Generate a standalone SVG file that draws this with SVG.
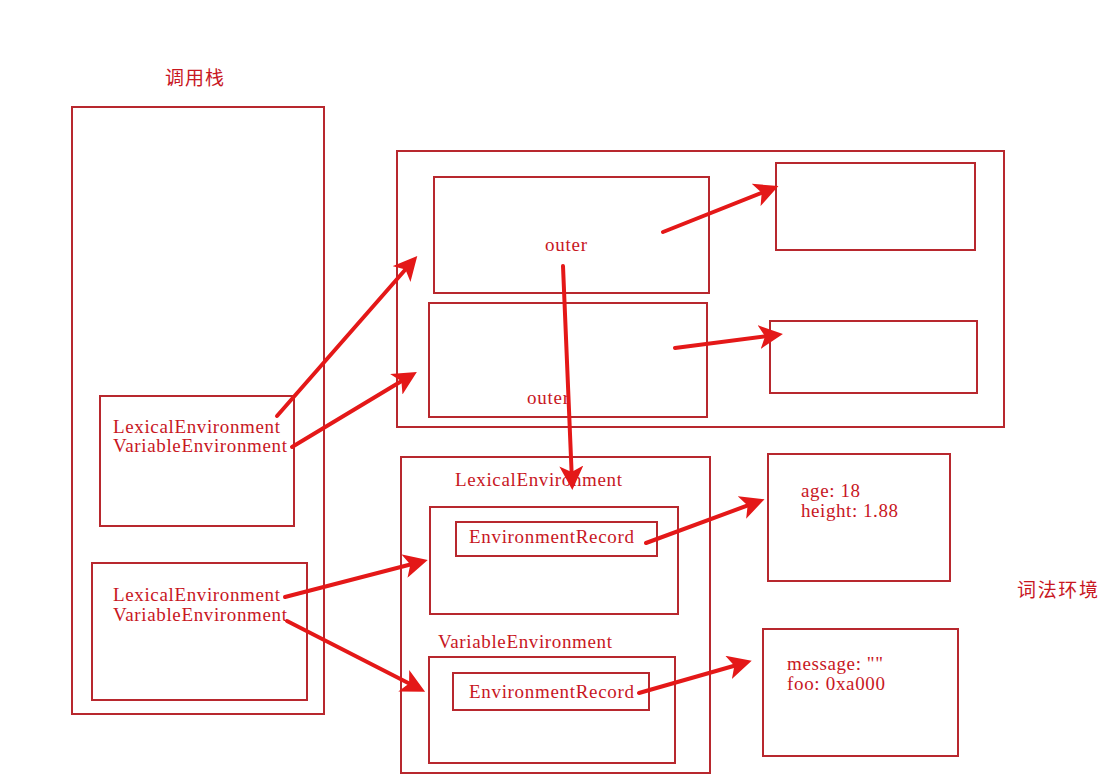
<svg xmlns="http://www.w3.org/2000/svg" width="1101" height="781" viewBox="0 0 1101 781">
<style>
.b{fill:none;stroke:#b8282e;stroke-width:2}
.t{font-family:"Liberation Serif",serif;font-size:19px;fill:#c8171f}
.c{font-family:"Noto Sans CJK SC",sans-serif;font-size:19px;fill:#c8171f}
.a{stroke:#e41818;stroke-width:4;stroke-linecap:round;fill:none;marker-end:url(#m)}
</style>
<defs><marker id="m" markerWidth="6" markerHeight="6" refX="4" refY="3" orient="auto"><path d="M0,0L6,3L0,6L1.5,3z" fill="#e41818"/></marker></defs>
<rect width="1101" height="781" fill="#fff"/>
<text class="c" x="165" y="85" textLength="59">调用栈</text>
<text class="c" x="1017" y="597" textLength="81">词法环境</text>
<g id="stack"><rect class="b" x="72" y="107" width="252" height="607"/></g>
<g id="ctx1"><rect class="b" x="100" y="396" width="194" height="130"/>
<text class="t" x="113" y="433" textLength="167">LexicalEnvironment</text><text class="t" x="113" y="452" textLength="174">VariableEnvironment</text></g>
<g id="ctx2"><rect class="b" x="92" y="563" width="215" height="137"/>
<text class="t" x="113" y="601" textLength="167">LexicalEnvironment</text><text class="t" x="113" y="621" textLength="174">VariableEnvironment</text></g>
<g id="outerEnv"><rect class="b" x="397" y="151" width="607" height="276"/></g>
<g id="le1"><rect class="b" x="434" y="177" width="275" height="116"/><text class="t" x="545" y="251" textLength="42">outer</text></g>
<g id="ve1"><rect class="b" x="429" y="303" width="278" height="114"/><text class="t" x="527" y="404" textLength="42">outer</text></g>
<g id="r1"><rect class="b" x="776" y="163" width="199" height="87"/></g>
<g id="r2"><rect class="b" x="770" y="321" width="207" height="72"/></g>
<g id="ec"><rect class="b" x="401" y="457" width="309" height="316"/></g>
<text class="t" x="455" y="486" textLength="167">LexicalEnvironment</text>
<g id="leBox"><rect class="b" x="430" y="507" width="248" height="107"/>
<rect class="b" x="456" y="522" width="201" height="34"/><text class="t" x="469" y="543" textLength="165">EnvironmentRecord</text></g>
<text class="t" x="438" y="648" textLength="174">VariableEnvironment</text>
<g id="veBox"><rect class="b" x="429" y="657" width="246" height="106"/>
<rect class="b" x="453" y="673" width="196" height="37"/><text class="t" x="469" y="698" textLength="165">EnvironmentRecord</text></g>
<g id="rec1"><rect class="b" x="768" y="454" width="182" height="127"/>
<text class="t" x="801" y="497" textLength="59">age: 18</text><text class="t" x="801" y="517" textLength="97">height: 1.88</text></g>
<g id="rec2"><rect class="b" x="763" y="629" width="195" height="127"/>
<text class="t" x="787" y="670" textLength="96">message: ""</text><text class="t" x="787" y="690" textLength="98">foo: 0xa000</text></g>
<g id="connectors">
<line class="a" x1="277" y1="416" x2="412" y2="262"/>
<line class="a" x1="292" y1="447" x2="410" y2="376"/>
<line class="a" x1="663" y1="232" x2="771" y2="189"/>
<line class="a" x1="675" y1="348" x2="775" y2="335"/>
<line class="a" x1="563" y1="266" x2="572" y2="482"/>
<line class="a" x1="646" y1="543" x2="757" y2="502"/>
<line class="a" x1="285" y1="597" x2="420" y2="562"/>
<line class="a" x1="287" y1="621" x2="418" y2="688"/>
<line class="a" x1="639" y1="693" x2="744" y2="663"/>
</g>
</svg>
